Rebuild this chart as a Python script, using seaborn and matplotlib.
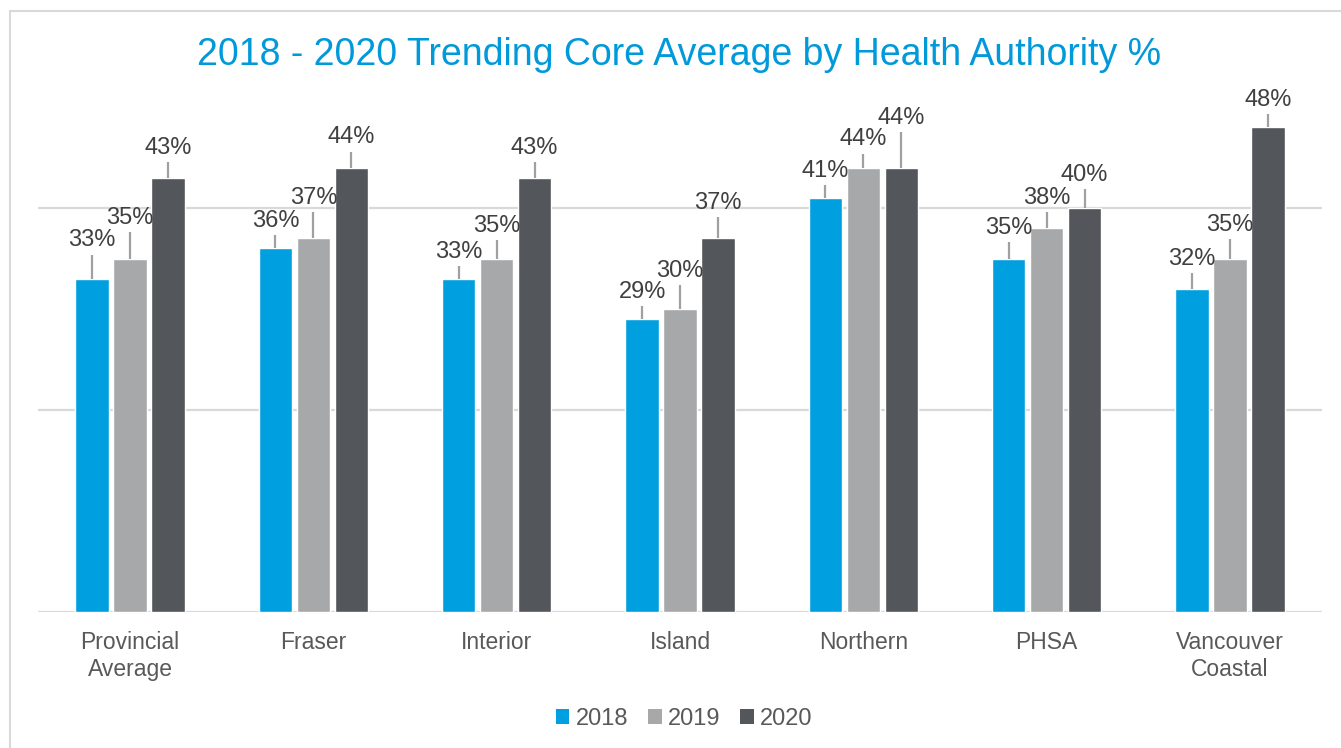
import pandas as pd
import numpy as np
import seaborn as sns
from matplotlib import pyplot as plt
from matplotlib.patches import Rectangle, Patch

regions = ["Provincial\nAverage", "Fraser", "Interior", "Island", "Northern", "PHSA", "Vancouver\nCoastal"]
years = ["2018", "2019", "2020"]
vals_2018 = [0.33, 0.36, 0.33, 0.29, 0.41, 0.35, 0.32]
vals_2019 = [0.35, 0.37, 0.35, 0.30, 0.44, 0.38, 0.35]
vals_2020 = [0.43, 0.44, 0.43, 0.37, 0.44, 0.40, 0.48]
# upper error bar lengths
err_2018 = [0.024, 0.013, 0.013, 0.013, 0.013, 0.016, 0.016]
err_2019 = [0.026, 0.026, 0.018, 0.024, 0.014, 0.016, 0.019]
err_2020 = [0.016, 0.016, 0.016, 0.021, 0.035, 0.019, 0.013]
colors = ["#009FDF", "#A7A8AA", "#53565A"]

df = pd.DataFrame({
    "region": regions * 3,
    "year": np.repeat(years, len(regions)),
    "value": vals_2018 + vals_2019 + vals_2020,
    "err": err_2018 + err_2019 + err_2020,
})

sns.set_style("white")
plt.rcParams["font.family"] = ["Liberation Sans", "DejaVu Sans"]

fig = plt.figure(figsize=(13.41, 7.48), dpi=100)
ax = fig.add_axes([0.0286, 0.1818, 0.957, 0.675])

sns.barplot(data=df, x="region", y="value", hue="year", palette=colors, saturation=1,
            width=0.62, gap=0.12, errorbar=None, legend=False, ax=ax)

for cont, yr in zip(ax.containers, years):
    sub = df[df["year"] == yr]
    for bar, v, e in zip(cont, sub["value"], sub["err"]):
        xc = bar.get_x() + bar.get_width() / 2
        ax.vlines(xc, v, v + e, color="#A0A0A0", lw=1.6, zorder=1)
        ax.text(xc, v + e + 0.008, f"{round(v * 100):.0f}%", ha="center", va="baseline",
                fontsize=17, color="#404040")

ax.set_ylim(0, 0.5)
ax.set_xlim(-0.5, len(regions) - 0.5)
ax.set_yticks([0, 0.2, 0.4])
ax.set_yticklabels([])
ax.yaxis.grid(True, color="#D9D9D9", lw=1.6)
ax.set_axisbelow(True)
for s in ax.spines.values():
    s.set_visible(False)
ax.tick_params(axis="x", length=0, pad=14, labelsize=16.5, labelcolor="#595959")
ax.tick_params(axis="y", length=0)
ax.set_xlabel("")
ax.set_ylabel("")

fig.text(0.5063, 1 - 55 / 748, "2018 - 2020 Trending Core Average by Health Authority %",
         ha="center", va="center", fontsize=27, color="#0099DA")

handles = [Patch(facecolor=c, edgecolor="none", label=y) for c, y in zip(colors, years)]
fig.legend(handles=handles, loc="center", bbox_to_anchor=(684 / 1341, 1 - 719 / 748), ncol=3,
           frameon=False, fontsize=17, labelcolor="#595959", handlelength=0.58,
           handleheight=0.58, handletextpad=0.25, columnspacing=0.85)

fig.add_artist(Rectangle((9.5 / 1341, -0.1), 1.2, 1.1 - 11.5 / 748, transform=fig.transFigure,
                         fill=False, ec="#D9D9D9", lw=1.5, clip_on=False))

fig.savefig("out.png", dpi=100, facecolor="white")
